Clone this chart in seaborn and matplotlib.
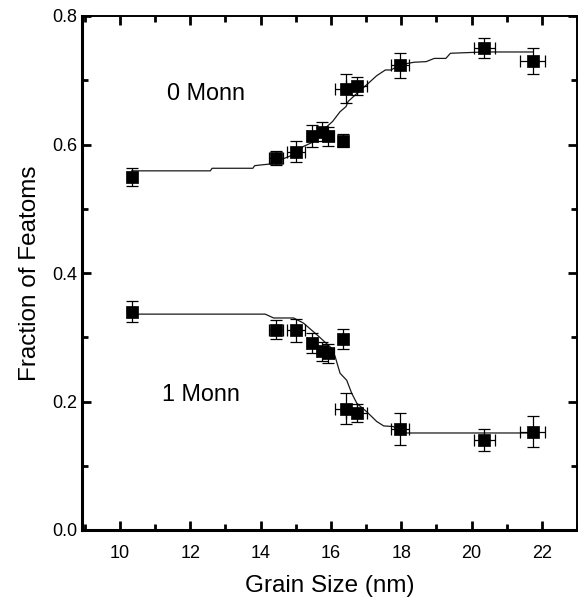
import matplotlib
matplotlib.use("Agg")
import matplotlib.pyplot as plt
from matplotlib.ticker import MultipleLocator
import seaborn as sns
import pandas as pd

# Measured fractions of Fe atoms versus grain size
grain_size = [10.33, 14.44, 15.00, 15.46, 15.75, 15.93, 16.35, 16.43, 16.74, 17.96, 20.36, 21.74]
grain_err = [0.0, 0.2, 0.25, 0.15, 0.15, 0.15, 0.0, 0.3, 0.3, 0.25, 0.3, 0.35]

frac_0monn = [0.550, 0.579, 0.589, 0.613, 0.620, 0.613, 0.606, 0.687, 0.691, 0.723, 0.750, 0.730]
err_0monn = [0.014, 0.011, 0.017, 0.017, 0.015, 0.015, 0.010, 0.022, 0.014, 0.020, 0.015, 0.020]

frac_1monn = [0.340, 0.312, 0.311, 0.291, 0.278, 0.275, 0.297, 0.189, 0.182, 0.157, 0.140, 0.153]
err_1monn = [0.017, 0.015, 0.018, 0.016, 0.015, 0.015, 0.016, 0.024, 0.014, 0.025, 0.017, 0.024]

# Model curves
fit_x_0monn = [10.33, 12.57, 12.62, 13.78, 13.83, 13.98, 14.34, 14.56, 14.84, 15.22, 15.50,
               15.89, 16.05, 16.26, 16.43, 16.49, 16.59, 16.83, 17.06, 17.30, 17.55, 17.71,
               17.96, 18.36, 18.71, 18.94, 19.27, 19.40, 20.36, 21.74]
fit_y_0monn = [0.559, 0.559, 0.563, 0.563, 0.567, 0.568, 0.570, 0.576, 0.582, 0.597, 0.604,
               0.628, 0.636, 0.651, 0.659, 0.667, 0.672, 0.684, 0.695, 0.707, 0.716, 0.716,
               0.724, 0.728, 0.729, 0.734, 0.734, 0.742, 0.744, 0.744]

fit_x_1monn = [10.33, 14.13, 14.37, 14.94, 15.22, 15.60, 16.02, 16.12, 16.26, 16.45, 16.59,
               16.74, 17.02, 17.30, 17.50, 17.78, 17.97, 20.36, 21.74]
fit_y_1monn = [0.336, 0.336, 0.330, 0.330, 0.322, 0.304, 0.283, 0.270, 0.244, 0.233, 0.213,
               0.197, 0.184, 0.169, 0.162, 0.161, 0.151, 0.151, 0.151]

labels = ["0 Monn", "1 Monn"]
label_x = [12.46, 12.31]
label_y = [0.679, 0.211]

x_ticks = [10, 12, 14, 16, 18, 20, 22]
y_ticks = [0.0, 0.2, 0.4, 0.6, 0.8]

sns.set_theme(style="ticks")
plt.rcParams["font.family"] = ["Liberation Sans", "DejaVu Sans"]

fig = plt.figure(figsize=(5.78, 5.99), dpi=100)
ax = fig.add_axes([82 / 578, 69 / 599, 495 / 578, 514 / 599])

points = pd.DataFrame({
    "grain": grain_size * 2,
    "frac": frac_0monn + frac_1monn,
    "series": ["0"] * len(grain_size) + ["1"] * len(grain_size),
})
fits = pd.concat([
    pd.DataFrame({"grain": fit_x_0monn, "frac": fit_y_0monn, "series": "0"}),
    pd.DataFrame({"grain": fit_x_1monn, "frac": fit_y_1monn, "series": "1"}),
])

sns.lineplot(data=fits, x="grain", y="frac", units="series", estimator=None, sort=False,
             color="#1a1a1a", linewidth=0.9, ax=ax, zorder=2)

for yv, ye in [(frac_0monn, err_0monn), (frac_1monn, err_1monn)]:
    ax.errorbar(grain_size, yv, yerr=ye, xerr=grain_err, fmt="none", ecolor="black",
                elinewidth=0.9, capsize=4.2, capthick=0.9, zorder=3)

sns.scatterplot(data=points, x="grain", y="frac", marker="s", s=80, color="black",
                edgecolor="black", linewidth=0.5, legend=False, ax=ax, zorder=4)

for t, tx, ty in zip(labels, label_x, label_y):
    ax.text(tx, ty, t, fontsize=16.8, ha="center", va="center", color="black")

ax.set_xlim(8.92, 23.0)
ax.set_ylim(0.0, 0.8)
ax.set_xticks(x_ticks)
ax.set_yticks(y_ticks)
ax.set_yticklabels([f"{v:.1f}" for v in y_ticks])
ax.xaxis.set_minor_locator(MultipleLocator(1))
ax.yaxis.set_minor_locator(MultipleLocator(0.1))

ax.tick_params(which="both", direction="in", top=True, right=True, color="black",
               labelcolor="black")
ax.tick_params(which="major", length=6.5, width=2.0)
ax.tick_params(which="minor", length=4.5, width=2.0)
ax.tick_params(axis="x", which="major", labelsize=13, pad=10.5)
ax.tick_params(axis="y", which="major", labelsize=13, pad=3.5)

for side in ["left", "bottom"]:
    ax.spines[side].set_linewidth(2.2)
for side in ["top", "right"]:
    ax.spines[side].set_linewidth(1.4)
for s in ax.spines.values():
    s.set_color("black")

ax.set_xlabel("Grain Size (nm)", fontsize=17.5, labelpad=10, color="black")
ax.set_ylabel("Fraction of Featoms", fontsize=17.5, labelpad=8, color="black")

fig.savefig("out.png", dpi=100, facecolor="white")
